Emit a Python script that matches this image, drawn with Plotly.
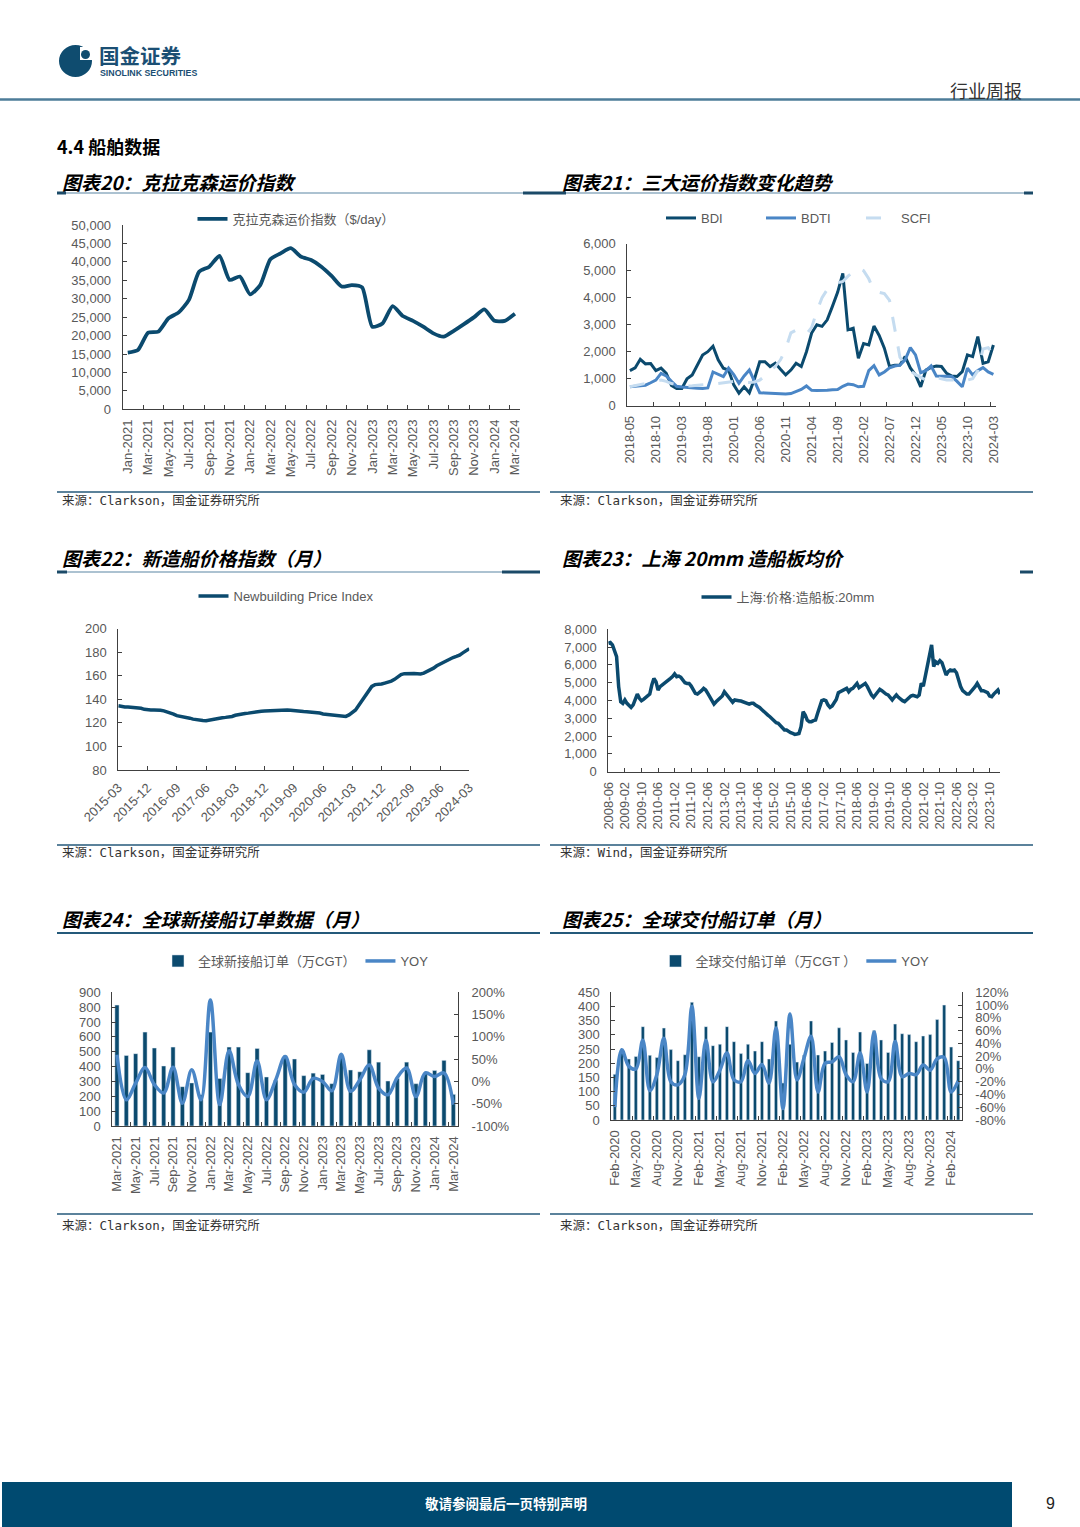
import plotly.graph_objects as go
import pandas as pd

W, H = 1080, 1527
def px(x): return x / W
def py(y): return 1 - y / H

# ---------------- data ----------------
# Chart 20: Clarksea index ($/day), monthly
clarksea_months = pd.date_range("2021-01-01", "2024-03-01", freq="MS").strftime("%b-%Y").tolist()
clarksea_values = [15400, 16100, 20800, 21100, 24700, 26300, 29700, 37300, 38700, 41600,
                   35100, 36000, 31200, 33700, 40700, 42300, 43700, 41400, 40500, 38700,
                   36200, 33300, 33700, 33100, 22400, 23300, 28000, 25300, 24000, 22400,
                   20600, 19700, 21300, 23100, 25000, 27100, 24000, 24000, 25900]
clarksea_ticks = clarksea_months[::2]

# Chart 21: BDI / BDTI / SCFI, monthly
idx_months = pd.date_range("2018-05-01", "2024-03-01", freq="MS").strftime("%Y-%m").tolist()
bdi = [1300, 1400, 1720, 1550, 1560, 1300, 1390, 1200, 750, 640,
       640, 1000, 1140, 1500, 1880, 2000, 2200, 1700, 1390, 1320,
       770, 460, 700, 480, 1000, 1630, 1630, 1450, 1570, 1350,
       1140, 1320, 1570, 1450, 2000, 2690, 3000, 2940, 3180, 3680,
       4200, 4900, 2810, 2870, 1760, 2300, 2250, 2950, 2600, 2130,
       1450, 1500, 1510, 1820, 1400, 1140, 700, 1320, 1420, 1470,
       1450, 1200, 1100, 1080, 1260, 1880, 1820, 2560, 1570, 1630,
       2250]
bdti = [700, 720, 740, 760, 850, 950, 1200, 1100, 900, 720,
        690, 670, 660, 650, 640, 660, 1250, 1150, 1080, 1390,
        1150, 830, 1100, 1320, 900, 480, 470, 460, 440, 430,
        430, 450, 520, 600, 730, 570, 560, 560, 570, 590,
        600, 720, 800, 780, 700, 720, 1300, 1480, 1140, 1250,
        1400, 1470, 1500, 1700, 2150, 1880, 1220, 1300, 1470, 1100,
        1100, 1080, 1080, 900, 700, 1390, 1140, 1300, 1410, 1250,
        1160]
scfi = [700, 740, 780, 820, 870, 900, 950, 900, 820, 780,
        760, 730, 740, 750, 770, 780, 800, 820, 840, 880,
        900, 880, 870, 860, 880, 950, 1100, 1300, 1450, 1700,
        2100, 2700, 2800, 2750, 2650, 2900, 3500, 4000, 4300, 4450,
        4550, 4600, 4800, 4950, 5100, 5000, 4700, 4250, 4200, 4150,
        3900, 2900, 1800, 1500, 1300, 1150, 1050, 950, 950, 1050,
        1000, 950, 950, 950, 900, 950, 1000, 1300, 2100, 2150,
        1900]
idx_ticks = idx_months[::5]

# Chart 22: Newbuilding Price Index, monthly
nb_months = pd.date_range("2015-03-01", "2024-03-01", freq="MS").strftime("%Y-%m").tolist()
nb_index = [134.6, 133.8, 133.5, 133.6, 133.4, 133.2, 133.0, 132.4, 131.5, 131.0,
            131.0, 131.0, 131.0, 130.8, 130.2, 129.5, 128.7, 127.5, 126.2, 125.8, 125.5, 124.8,
            124.0, 123.2, 122.6, 122.3, 122.0, 121.9, 122.5, 123.2, 123.6, 124.0, 124.4, 124.7,
            125.0, 125.5, 126.5, 127.2, 127.6, 128.0, 128.3, 128.8, 129.5, 129.8, 129.8, 130.0,
            130.2, 130.5, 130.7, 130.9, 131.0, 131.0, 130.9, 130.7, 130.3, 130.0, 129.8, 129.6,
            129.5, 129.3, 129.2, 129.0, 128.4, 127.6, 127.2, 127.0, 127.0, 126.5, 125.8, 125.3,
            125.5, 126.8, 128.5, 131.0, 135.0, 139.0, 143.0, 146.5, 151.0, 152.5, 152.6, 153.0,
            153.8, 154.5, 155.5, 157.0, 159.0, 161.0, 161.8, 162.0, 162.1, 162.0, 161.8, 161.6,
            162.3, 163.5, 164.9, 166.5, 168.5, 170.0, 171.5, 173.0, 174.6, 175.5, 176.5, 177.6,
            179.5, 181.5, 183.0]
nb_ticks = nb_months[::9]

# Chart 23: Shanghai 20mm shipbuilding plate price, monthly
plate_months = pd.date_range("2008-06-01", "2024-03-01", freq="MS").strftime("%Y-%m").tolist()
plate_price = [7210, 7250, 7120, 6840, 6460, 4780, 3930, 3840, 4030, 3840,
               3690, 3610, 3750, 4030, 4360, 4120, 3990, 4060, 4180, 4310,
               4360, 4870, 5240, 5060, 4590, 4780, 4870, 4930, 5000, 5110,
               5240, 5340, 5490, 5340, 5370, 5300, 5150, 5000, 4960, 4960,
               4810, 4550, 4400, 4360, 4440, 4550, 4680, 4590, 4400, 4210,
               3930, 3800, 3930, 4030, 4120, 4250, 4490, 4360, 4180, 4030,
               3900, 4030, 4030, 3990, 3970, 3930, 3880, 3840, 3800, 3840,
               3840, 3750, 3690, 3610, 3500, 3370, 3280, 3180, 3090, 2960,
               2870, 2750, 2720, 2570, 2420, 2340, 2340, 2250, 2190, 2150,
               2100, 2120, 2150, 2530, 3370, 3180, 2900, 2810, 2810, 2870,
               2900, 3280, 3610, 3990, 4030, 3990, 3750, 3610, 3690, 3840,
               4060, 4440, 4490, 4550, 4630, 4680, 4490, 4630, 4680, 4810,
               4960, 4720, 4810, 4930, 4960, 4780, 4490, 4310, 4180, 4310,
               4440, 4630, 4550, 4440, 4360, 4310, 4180, 4030, 4180, 4310,
               4180, 4060, 3990, 3930, 4060, 4180, 4250, 4290, 4250, 4210,
               4310, 4960, 4810, 5430, 6090, 6650, 7120, 5900, 6180, 6090,
               6240, 6120, 5710, 5430, 5620, 5710, 5670, 5710, 5560, 5150,
               4780, 4550, 4440, 4360, 4360, 4490, 4630, 4780, 4960, 4740,
               4550, 4550, 4490, 4440, 4250, 4210, 4360, 4490, 4590, 4360]
plate_ticks = plate_months[::8]

# Chart 24: global new orders (10k CGT) and YoY (%)
ord_months = pd.date_range("2021-03-01", "2024-03-01", freq="MS").strftime("%b-%Y").tolist()
ord_values = [814, 475, 487, 632, 525, 404, 531, 265, 290, 210,
              632, 320, 531, 531, 359, 522, 330, 309, 473, 451,
              339, 356, 347, 285, 466, 377, 365, 513, 430, 303,
              320, 430, 285, 354, 374, 442, 213]
ord_yoy = [60, -41, -4, 31, -7, -26, 32, -49, 26, -41,
           183, -52, 69, -7, -34, 46, -41, 4, 56, -7,
           -24, 7, 0, -21, 61, -22, 4, 37, -15, -30,
           9, 30, -34, 19, 11, 19, -52]
ord_ticks = ord_months[::2]
ord_yoy_ticks = [-100, -50, 0, 50, 100, 150, 200]

# Chart 25: global deliveries (10k CGT) and YoY (%)
del_months = pd.date_range("2020-02-01", "2024-03-01", freq="MS").strftime("%b-%Y").tolist()
del_values = [161, 240, 215, 224, 329, 228, 220, 324, 248, 209,
              230, 415, 223, 329, 262, 267, 329, 276, 234, 267,
              243, 276, 215, 349, 130, 267, 204, 229, 349, 229,
              243, 273, 325, 282, 238, 310, 199, 315, 282, 238,
              338, 304, 301, 276, 296, 301, 354, 405, 257, 209]
del_yoy = [-60, 30, 4, 0, 45, -34, -9, 48, -20, -25,
           -9, 98, -46, 45, -20, -2, 25, -17, -20, 13,
           -7, 7, -22, 64, -62, 86, -17, 17, 51, -36,
           9, 11, 19, -9, -20, 25, -36, 58, -15, -20,
           43, -12, -7, -9, 6, -2, 16, 18, -36, -19]
del_ticks = del_months[::3]
del_yoy_ticks = [-80, -60, -40, -20, 0, 20, 40, 60, 80, 100, 120]

# ---------------- style ----------------
NAVY = "#0b4a6e"
MID = "#4a86c6"
LIGHT = "#c5dcf0"
AX = "#404040"
TXT = "#595959"
FONT = "Liberation Sans, Arial, Noto Sans CJK SC, sans-serif"
CJK = "Noto Sans CJK SC, sans-serif"
tickfont = dict(family=FONT, size=13, color=TXT)

fig = go.Figure()

# chart 20
fig.add_trace(go.Scatter(x=clarksea_months, y=clarksea_values, mode="lines",
                         line=dict(color=NAVY, width=3.8, shape="spline", smoothing=0.6),
                         name="克拉克森运价指数（$/day）", xaxis="x", yaxis="y", legend="legend"))
# chart 21
fig.add_trace(go.Scatter(x=idx_months, y=bdi, mode="lines", line=dict(color=NAVY, width=3),
                         name="BDI", xaxis="x2", yaxis="y2", legend="legend2"))
fig.add_trace(go.Scatter(x=idx_months, y=bdti, mode="lines", line=dict(color=MID, width=3),
                         name="BDTI", xaxis="x2", yaxis="y2", legend="legend2"))
fig.add_trace(go.Scatter(x=idx_months, y=scfi, mode="lines",
                         line=dict(color=LIGHT, width=3, dash="longdash"),
                         name="SCFI", xaxis="x2", yaxis="y2", legend="legend2"))
# chart 22
fig.add_trace(go.Scatter(x=nb_months, y=nb_index, mode="lines", line=dict(color=NAVY, width=3.5),
                         name="Newbuilding Price Index", xaxis="x3", yaxis="y3", legend="legend3"))
# chart 23
fig.add_trace(go.Scatter(x=plate_months, y=plate_price, mode="lines", line=dict(color=NAVY, width=3.5),
                         name="上海:价格:造船板:20mm", xaxis="x4", yaxis="y4", legend="legend4"))
# chart 24
fig.add_trace(go.Bar(x=ord_months, y=ord_values, marker_color=NAVY, width=0.45,
                     name="全球新接船订单（万CGT）", xaxis="x5", yaxis="y5", legend="legend5"))
fig.add_trace(go.Scatter(x=ord_months, y=ord_yoy, mode="lines",
                         line=dict(color=MID, width=3.5, shape="spline", smoothing=1),
                         name="YOY", xaxis="x5", yaxis="y7", legend="legend5"))
# chart 25
fig.add_trace(go.Bar(x=del_months, y=del_values, marker_color=NAVY, width=0.45,
                     name="全球交付船订单（万CGT ）", xaxis="x6", yaxis="y6", legend="legend6"))
fig.add_trace(go.Scatter(x=del_months, y=del_yoy, mode="lines",
                         line=dict(color=MID, width=3.5, shape="spline", smoothing=1),
                         name="YOY", xaxis="x6", yaxis="y8", legend="legend6"))


def xcat(dom, anchor, ticks, angle=-90, boundaries=True, rng=None):
    d = dict(type="category", domain=dom, anchor=anchor, tickmode="array", tickvals=ticks,
             ticktext=ticks, tickangle=angle, ticks="inside", ticklen=4, tickcolor=AX,
             showline=True, linecolor=AX, linewidth=1, showgrid=False, zeroline=False,
             tickfont=tickfont, tickson="boundaries" if boundaries else "labels",
             fixedrange=True, automargin=False, ticklabelstandoff=4)
    if rng is not None:
        d["range"] = rng
    return d


def ylin(dom, anchor, rng, dtick, fmt=",", side="left", overlay=None, standoff=8, pct=None):
    d = dict(domain=dom, anchor=anchor, range=rng, dtick=dtick, tick0=rng[0], tickformat=fmt,
             ticks="inside", ticklen=4, tickcolor=AX, showline=True,
             linecolor=AX, linewidth=1, showgrid=False, zeroline=False, tickfont=tickfont,
             side=side, fixedrange=True, automargin=False, ticklabelstandoff=standoff)
    if pct is not None:
        d.update(tickmode="array", tickvals=pct, ticktext=[f"{v}%" for v in pct])
    if overlay:
        d["overlaying"] = overlay
        d.pop("domain")
    return d


layout = dict(
    width=W, height=H, autosize=False, margin=dict(l=0, r=0, t=0, b=0, pad=0, autoexpand=False),
    paper_bgcolor="white", plot_bgcolor="rgba(0,0,0,0)",
    font=dict(family=FONT, color=TXT),
    xaxis=xcat([px(122.7), px(520)], "y", clarksea_ticks, rng=[-0.5, len(clarksea_months) - 0.5]),
    yaxis=ylin([py(409.3), py(225)], "x", [0, 50000], 5000),
    xaxis2=xcat([px(627.3), px(996)], "y2", idx_ticks, rng=[-0.5, len(idx_months) - 0.5]),
    yaxis2=ylin([py(405.7), py(243.7)], "x2", [0, 6000], 1000),
    xaxis3=xcat([px(118.3), px(469.3)], "y3", nb_ticks, angle=-45, boundaries=False,
                rng=[0, len(nb_months) - 1]),
    yaxis3=ylin([py(770), py(628.7)], "x3", [80, 200], 20),
    xaxis4=xcat([px(608.3), px(1000)], "y4", plate_ticks, boundaries=False,
                rng=[0, len(plate_months) - 1]),
    yaxis4=ylin([py(771.7), py(629.3)], "x4", [0, 8000], 1000),
    xaxis5=xcat([px(112.3), px(458)], "y5", ord_ticks, rng=[-0.5, len(ord_months) - 0.5]),
    yaxis5=ylin([py(1126), py(992.3)], "x5", [0, 900], 100),
    yaxis7=ylin(None, "x5", [-100, 200], 50, side="right", overlay="y5", standoff=10,
                pct=ord_yoy_ticks),
    xaxis6=xcat([px(611.3), px(961.7)], "y6", del_ticks, rng=[-0.5, len(del_months) - 0.5]),
    yaxis6=ylin([py(1120), py(992.3)], "x6", [0, 450], 50),
    yaxis8=ylin(None, "x6", [-80, 120], 20, side="right", overlay="y6", standoff=10,
                pct=del_yoy_ticks),
    showlegend=True,
)

legfont = dict(family=FONT, size=13, color=TXT)
def leg(x, y, ew=None):
    d = dict(x=px(x), y=py(y), xanchor="center", yanchor="middle", orientation="h",
             font=legfont, bgcolor="rgba(0,0,0,0)", itemclick=False, itemdoubleclick=False,
             tracegroupgap=0)
    if ew:
        d.update(entrywidth=ew, entrywidthmode="pixels")
    return d
layout["legend"] = leg(296, 219)
layout["legend2"] = leg(811, 218, ew=55)
layout["legend3"] = leg(286, 596)
layout["legend4"] = leg(788, 597)
layout["legend5"] = leg(296, 961)
layout["legend6"] = leg(795, 961)

fig.update_layout(**layout)

# ---------------- decorations ----------------
LINE = "#24597a"
DARK = "#1b4a68"
shapes = []
def hline(x0, x1, y, color=LINE, w=1.5):
    shapes.append(dict(type="line", xref="paper", yref="paper", x0=px(x0), x1=px(x1),
                       y0=py(y), y1=py(y), line=dict(color=color, width=w)))

# header rule
hline(0, 1080, 99.5, color="#4d7c99", w=2.5)
# logo
shapes.append(dict(type="circle", xref="paper", yref="paper", x0=px(59), x1=px(92),
                   y0=py(77), y1=py(45), fillcolor="#0f4c6f", line=dict(width=0)))
shapes.append(dict(type="rect", xref="paper", yref="paper", x0=px(80), x1=px(93),
                   y0=py(60), y1=py(47), fillcolor="white", line=dict(width=0)))
shapes.append(dict(type="circle", xref="paper", yref="paper", x0=px(81), x1=px(90),
                   y0=py(59), y1=py(50), fillcolor="#0f4c6f", line=dict(width=0)))
# title underlines row 1
hline(57, 1033, 193, color="#5a86a3", w=1.2)
hline(57, 66, 193, color=DARK, w=3)
hline(523, 566, 193, color=DARK, w=3)
hline(1024, 1033, 193, color=DARK, w=3)
# title underlines row 2
hline(57, 540, 572, color="#5a86a3", w=1.2)
hline(57, 67, 572, color=DARK, w=3)
hline(502, 540, 572, color=DARK, w=3)
hline(1020, 1033, 572, color=DARK, w=3)
# title underlines row 3
hline(57, 540, 933, color=LINE, w=2.2)
hline(550, 1033, 933, color=LINE, w=2.2)
# source rules
for yy in (492, 845, 1214):
    hline(57, 540, yy, w=1.6)
    hline(550, 1033, yy, w=1.6)
# footer band
shapes.append(dict(type="rect", xref="paper", yref="paper", x0=px(2), x1=px(1012),
                   y0=py(1527), y1=py(1482), fillcolor="#004a70", line=dict(width=0)))

ann = []
def text(x, y, s, size, color="#000", family=CJK, anchor="left"):
    ann.append(dict(xref="paper", yref="paper", x=px(x), y=py(y), text=s, showarrow=False,
                    xanchor=anchor, yanchor="middle", font=dict(family=family, size=size, color=color)))

text(97, 54.5, "<b>国金证券</b>", 20.5, color="#1b4f74")
text(98, 73, "<b>SINOLINK SECURITIES</b>", 8.8, color="#1b4f74", family=FONT)
text(1024, 90, "行业周报", 18, color="#333333", anchor="right")
text(55, 146, "<b>4.4 船舶数据</b>", 18)
text(60, 181, "<b><i>图表20：克拉克森运价指数</i></b>", 19)
text(560, 181, "<b><i>图表21：三大运价指数变化趋势</i></b>", 19)
text(60, 557, "<b><i>图表22：新造船价格指数（月）</i></b>", 19)
text(560, 557, "<b><i>图表23：上海 20mm 造船板均价</i></b>", 19)
text(60, 918, "<b><i>图表24：全球新接船订单数据（月）</i></b>", 19)
text(560, 918, "<b><i>图表25：全球交付船订单（月）</i></b>", 19)
SRC = "DejaVu Sans Mono, Noto Sans CJK SC, monospace"
text(60, 500, "来源：Clarkson，国金证券研究所", 12.5, color="#333333", family=SRC)
text(558, 500, "来源：Clarkson，国金证券研究所", 12.5, color="#333333", family=SRC)
text(60, 853, "来源：Clarkson，国金证券研究所", 12.5, color="#333333", family=SRC)
text(558, 853, "来源：Wind，国金证券研究所", 12.5, color="#333333", family=SRC)
text(60, 1225, "来源：Clarkson，国金证券研究所", 12.5, color="#333333", family=SRC)
text(558, 1225, "来源：Clarkson，国金证券研究所", 12.5, color="#333333", family=SRC)
text(506, 1503, "<b>敬请参阅最后一页特别声明</b>", 13.5, color="white", anchor="center")
text(1050, 1503, "9", 16, color="#222222", family=FONT, anchor="center")

fig.update_layout(shapes=shapes, annotations=ann)
fig.write_html("out.html", config={"displayModeBar": False},
               post_script="document.body.style.margin='0px';document.body.style.padding='0px';")
